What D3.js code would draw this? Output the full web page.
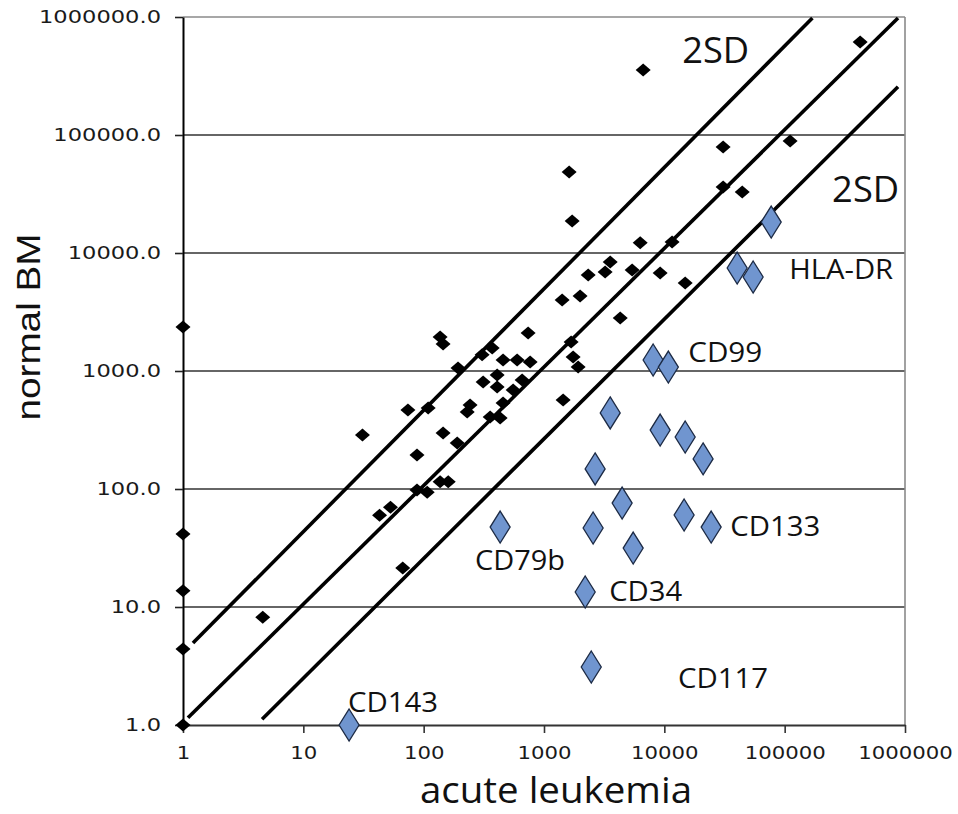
<!DOCTYPE html>
<html>
<head>
<meta charset="utf-8">
<script src="https://cdn.jsdelivr.net/npm/d3@7"></script>
<style>
  body { margin: 0; background: #fff; }
</style>
</head>
<body>
<div id="canvas"></div>
<script>
// antigens (black) : acute leukemia vs normal BM
var allX = [1, 1, 1, 1, 1, 4.6, 67, 31, 43, 53, 74, 109, 88, 88, 107, 137, 160, 145, 190, 137, 145, 193,
  230, 243, 306, 371, 312, 408, 408, 357, 432, 457, 598, 767, 457, 554, 658, 738, 1415, 1442,
  1680, 1746, 1922, 1995, 1618, 1714, 2330, 3220, 3550, 4300, 5400, 6300, 6670, 9230, 11600,
  14900, 30800, 30800, 44400, 111000, 424000];
var allY = [2360, 41.6, 13.7, 4.4, 1, 8.2, 21.4, 287, 60, 70, 467, 486, 194, 98, 94, 115, 115, 298, 245, 1940, 1690, 1060,
  450, 515, 1370, 1570, 807, 925, 732, 408, 400, 1240, 1240, 1190, 536, 690, 839, 2100, 4000, 568,
  1760, 1315, 1080, 4330, 48600, 18700, 6510, 6900, 8390, 2810, 7180, 12200, 356000, 6770, 12400,
  5570, 79200, 36300, 32900, 89000, 614000];

// leukemia-associated markers (blue)
var markX = [77300, 40300, 54700, 8070, 10800, 3550, 9230, 14900, 21000, 2660, 4460, 2560, 14600, 24500, 5510, 432, 2200, 2470, 24];
var markY = [18300, 7460, 6260, 1240, 1080, 441, 316, 276, 180, 148, 76, 46.7, 60.2, 47.6, 31.6, 47.6, 13.4, 3.1, 1.0];

// regression line and the two 2SD lines (endpoints, data units)
var lineX1 = [1.21, 1.10, 4.54];
var lineY1 = [4.95, 1.15, 1.12];
var lineX2 = [170000, 875000, 875000];
var lineY2 = [980000, 980000, 256000];

// annotations, anchored at left / baseline
var labelText = ["2SD", "2SD", "HLA-DR", "CD99", "CD133", "CD79b", "CD34", "CD117", "CD143"];
var labelX = [14060, 248000, 109000, 15800, 35300, 267, 3480, 13000, 23.5];
var labelY = [408000, 27100, 6030, 1193, 40, 20.6, 11.2, 2.06, 1.29];

var xTicks = [1, 10, 100, 1000, 10000, 100000, 1000000];
var yTicks = [1, 10, 100, 1000, 10000, 100000, 1000000];

var margin = {left: 183, right: 53, top: 17, bottom: 89};
var width = 958 - margin.left - margin.right,
  height = 814 - margin.top - margin.bottom;

var svg = d3.select("#canvas")
  .append("svg")
  .attr("width", 958)
  .attr("height", 814);

var g = svg.append("g")
  .attr("transform", "translate(" + margin.left + ", " + margin.top + ")");

var x = d3.scaleLog().domain([1, 1000000]).range([0, width]);
var y = d3.scaleLog().domain([1, 1000000]).range([height, 0]);

var stretch = 1.18;

// grid
g.append("g")
  .selectAll("line")
  .data(yTicks.slice(1))
  .enter()
  .append("line")
  .attr("x1", 0)
  .attr("x2", width)
  .attr("y1", d => y(d))
  .attr("y2", d => y(d))
  .attr("stroke", d => d === 1000000 ? "#8a8a8a" : "#333")
  .attr("stroke-width", 1.6);

g.append("line")
  .attr("x1", width).attr("x2", width)
  .attr("y1", 0).attr("y2", height)
  .attr("stroke", "#8a8a8a")
  .attr("stroke-width", 1.6);

// axes
var xAxisCall = d3.axisBottom(x)
  .tickValues(xTicks)
  .tickFormat(d3.format("d"))
  .tickSize(8)
  .tickSizeOuter(0)
  .tickPadding(13);

var xg = g.append("g")
  .attr("class", "x-axis")
  .attr("transform", `translate(0,${height})`)
  .call(xAxisCall);
xg.select(".domain").attr("stroke", "#333").attr("stroke-width", 2);
xg.selectAll(".tick line").attr("stroke", "#333").attr("stroke-width", 1.6);
xg.selectAll("text")
  .attr("font-family", "DejaVu Sans")
  .attr("font-size", 18)
  .attr("fill", "#1a1a1a")
  .attr("transform", "scale(" + stretch + ",1)");

var yAxisCall = d3.axisLeft(y)
  .tickValues(yTicks)
  .tickFormat(d3.format(".1f"))
  .tickSize(8)
  .tickSizeOuter(0);

var yg = g.append("g")
  .attr("class", "y-axis")
  .call(yAxisCall);
yg.select(".domain").attr("stroke", "#000").attr("stroke-width", 2);
yg.selectAll(".tick line").attr("stroke", "#222").attr("stroke-width", 1.6);
yg.selectAll("text")
  .attr("font-family", "DejaVu Sans")
  .attr("font-size", 18.5)
  .attr("fill", "#1a1a1a")
  .attr("x", -22 / 1.22)
  .attr("transform", "scale(1.22,1)");

// fit lines
g.append("g")
  .selectAll("line")
  .data(lineX1.map((d, i) => i))
  .enter()
  .append("line")
  .attr("x1", i => x(lineX1[i]))
  .attr("y1", i => y(lineY1[i]))
  .attr("x2", i => x(lineX2[i]))
  .attr("y2", i => y(lineY2[i]))
  .attr("stroke", "#000")
  .attr("stroke-width", 3.6);

var diamond = (w, h) => `M0,${-h / 2}L${w / 2},0L0,${h / 2}L${-w / 2},0Z`;

g.append("g")
  .selectAll("path")
  .data(allX.map((d, i) => ({x: d, y: allY[i]})))
  .enter()
  .append("path")
  .attr("d", diamond(15, 13))
  .attr("transform", d => `translate(${x(d.x)},${y(d.y)})`)
  .attr("fill", "#000");

g.append("g")
  .selectAll("path")
  .data(markX.map((d, i) => ({x: d, y: markY[i]})))
  .enter()
  .append("path")
  .attr("d", diamond(20, 32))
  .attr("transform", d => `translate(${x(d.x)},${y(d.y)})`)
  .attr("fill", "#7095cf")
  .attr("stroke", "#1c2a44")
  .attr("stroke-width", 1.3);

// label widths / sizes
var labelStyle = {
  "2SD": {size: 36, len: 67},
  "HLA-DR": {size: 27, len: 104},
  "CD99": {size: 27, len: 74},
  "CD133": {size: 27, len: 90},
  "CD79b": {size: 27, len: 90},
  "CD34": {size: 27, len: 73},
  "CD117": {size: 27, len: 90},
  "CD143": {size: 27, len: 90}
};

g.append("g")
  .selectAll("text")
  .data(labelText.map((d, i) => ({t: d, x: labelX[i], y: labelY[i]})))
  .enter()
  .append("text")
  .attr("x", d => x(d.x))
  .attr("y", d => y(d.y))
  .attr("font-family", "Open Sans")
  .attr("font-size", d => labelStyle[d.t].size)
  .attr("textLength", d => labelStyle[d.t].len)
  .attr("lengthAdjust", "spacingAndGlyphs")
  .attr("fill", "#111")
  .text(d => d.t);

// titles
svg.append("text")
  .attr("x", 556)
  .attr("y", 803)
  .attr("text-anchor", "middle")
  .attr("font-family", "Open Sans")
  .attr("font-size", 36)
  .attr("textLength", 272)
  .attr("lengthAdjust", "spacingAndGlyphs")
  .attr("fill", "#111")
  .text("acute leukemia");

svg.append("text")
  .attr("transform", "translate(40,327) rotate(-90)")
  .attr("text-anchor", "middle")
  .attr("font-family", "Liberation Sans")
  .attr("font-size", 33)
  .attr("textLength", 187)
  .attr("lengthAdjust", "spacingAndGlyphs")
  .attr("fill", "#111")
  .text("normal BM");
</script>
</body>
</html>
